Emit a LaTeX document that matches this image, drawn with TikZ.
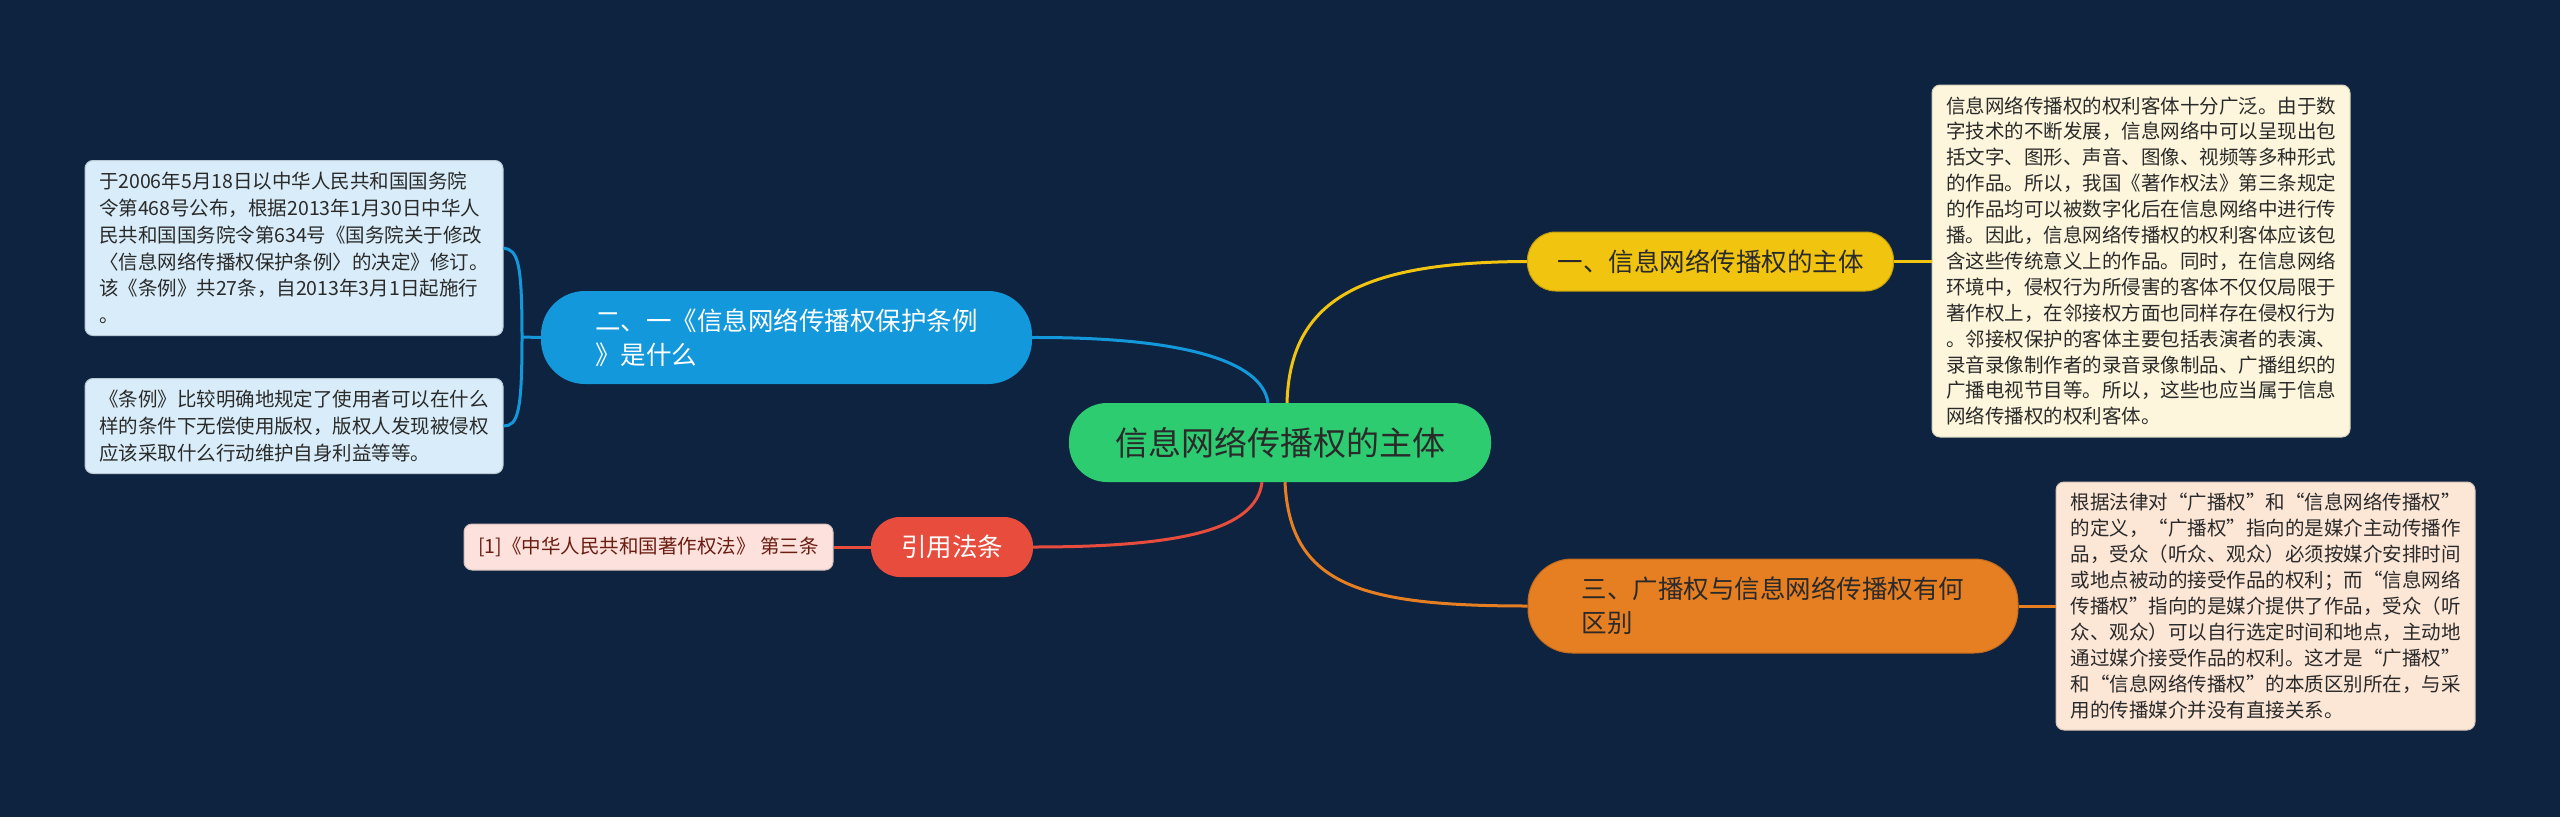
\documentclass[tikz,border=0pt]{standalone}
\usepackage{fontspec}
\newfontfamily\cjk{Noto Sans CJK SC}
\definecolor{bg}{HTML}{0E2340}
\definecolor{cgreen}{HTML}{2ECC71}
\definecolor{cyellow}{HTML}{F1C40F}
\definecolor{corange}{HTML}{E67E22}
\definecolor{cblue}{HTML}{1398DB}
\definecolor{cred}{HTML}{E74C3C}
\definecolor{leafy}{HTML}{FDF6DC}
\definecolor{leafo}{HTML}{FCE7D7}
\definecolor{leafb}{HTML}{D8EDF9}
\definecolor{leafr}{HTML}{FCE1DD}
\definecolor{darktext}{HTML}{2A2A2A}
\definecolor{redtext}{HTML}{6B1D12}
\tikzset{
  conn/.style={line width=3pt},
  mainbox/.style={inner sep=0pt, align=left, font=\cjk\fontsize{25.5}{34}\selectfont},
  leafbox/.style={inner sep=0pt, align=left, rounded corners=8pt, line width=1pt, font=\cjk\fontsize{19.5}{25.9}\selectfont, text=darktext},
}
\begin{document}
\begin{tikzpicture}[x=1pt,y=-1pt]
\fill[bg] (0,0) rectangle (2560,817);
\useasboundingbox (0,0) rectangle (2560,817);

% main nodes
\node[mainbox, fill=cgreen, minimum width=422pt, minimum height=79pt, rounded corners=38pt, text=darktext, font=\cjk\fontsize{33}{40}\selectfont] (root) at (1280,442.5) {信息网络传播权的主体};
\node[mainbox, fill=cyellow, draw=cyellow!80!black, line width=1pt, minimum width=366pt, minimum height=59pt, rounded corners=28pt, text=darktext] (n1) at (1710.5,261.5) {一、信息网络传播权的主体};
\node[mainbox, fill=corange, draw=corange!85!black, line width=1pt, minimum width=490pt, minimum height=94pt, rounded corners=44pt, text=darktext] (n3) at (1773,606) {三、广播权与信息网络传播权有何\\区别};
\node[mainbox, fill=cblue, minimum width=491pt, minimum height=93pt, rounded corners=44pt, text=white] (n2) at (786.5,337.5) {二、一《信息网络传播权保护条例\\》是什么};
\node[mainbox, fill=cred, minimum width=162pt, minimum height=60pt, rounded corners=29pt, text=white] (n4) at (952,547) {引用法条};

% leaves
\node[leafbox, fill=leafy, draw=leafy!85!black, minimum width=418pt, minimum height=352pt] (l1) at (2141,261) {信息网络传播权的权利客体十分广泛。由于数\\字技术的不断发展，信息网络中可以呈现出包\\括文字、图形、声音、图像、视频等多种形式\\的作品。所以，我国《著作权法》第三条规定\\的作品均可以被数字化后在信息网络中进行传\\播。因此，信息网络传播权的权利客体应该包\\含这些传统意义上的作品。同时，在信息网络\\环境中，侵权行为所侵害的客体不仅仅局限于\\著作权上，在邻接权方面也同样存在侵权行为\\。邻接权保护的客体主要包括表演者的表演、\\录音录像制作者的录音录像制品、广播组织的\\广播电视节目等。所以，这些也应当属于信息\\网络传播权的权利客体。};
\node[leafbox, fill=leafo, draw=leafo!85!black, minimum width=419pt, minimum height=248pt] (l3) at (2265.5,606) {根据法律对“广播权”和“信息网络传播权”\\的定义，“广播权”指向的是媒介主动传播作\\品，受众（听众、观众）必须按媒介安排时间\\或地点被动的接受作品的权利；而“信息网络\\传播权”指向的是媒介提供了作品，受众（听\\众、观众）可以自行选定时间和地点，主动地\\通过媒介接受作品的权利。这才是“广播权”\\和“信息网络传播权”的本质区别所在，与采\\用的传播媒介并没有直接关系。};
\node[leafbox, fill=leafb, draw=leafb!85!black, minimum width=418pt, minimum height=175pt, font=\cjk\fontsize{19.5}{26.7}\selectfont] (l2a) at (294,248) {于2006年5月18日以中华人民共和国国务院\\令第468号公布，根据2013年1月30日中华人\\民共和国国务院令第634号《国务院关于修改\\〈信息网络传播权保护条例〉的决定》修订。\\该《条例》共27条，自2013年3月1日起施行\\。};
\node[leafbox, fill=leafb, draw=leafb!85!black, minimum width=418pt, minimum height=95pt, font=\cjk\fontsize{19.5}{26.7}\selectfont] (l2b) at (294,426) {《条例》比较明确地规定了使用者可以在什么\\样的条件下无偿使用版权，版权人发现被侵权\\应该采取什么行动维护自身利益等等。};
\node[leafbox, fill=leafr, draw=leafr!85!black, minimum width=369pt, minimum height=46pt, text=redtext] (l4) at (648.5,547) {[1]《中华人民共和国著作权法》 第三条};

% connectors
\draw[conn, cyellow] ([xshift=7pt]root.north) .. controls (1290,300) and (1360,262) .. (n1.west);
\draw[conn, cblue] ([xshift=-12pt]root.north) .. controls (1262,360) and (1180,337) .. (n2.east);
\draw[conn, cred] ([xshift=-18pt]root.south) .. controls (1256,530) and (1180,547) .. (n4.east);
\draw[conn, corange] ([xshift=5pt]root.south) .. controls (1290,585) and (1360,606) .. (n3.west);
\draw[conn, cyellow] (n1.east) -- (l1.west |- n1.east);
\draw[conn, corange] (n3.east) -- (l3.west |- n3.east);
\draw[conn, cred] (n4.west) -- (l4.east);
\coordinate (bj) at (522,337);
\draw[conn, cblue] (n2.west) -- (bj);
\draw[conn, cblue] (bj) .. controls (522,262) and (518,250) .. (l2a.east);
\draw[conn, cblue] (bj) .. controls (522,412) and (518,426) .. (l2b.east);
\end{tikzpicture}
\end{document}
